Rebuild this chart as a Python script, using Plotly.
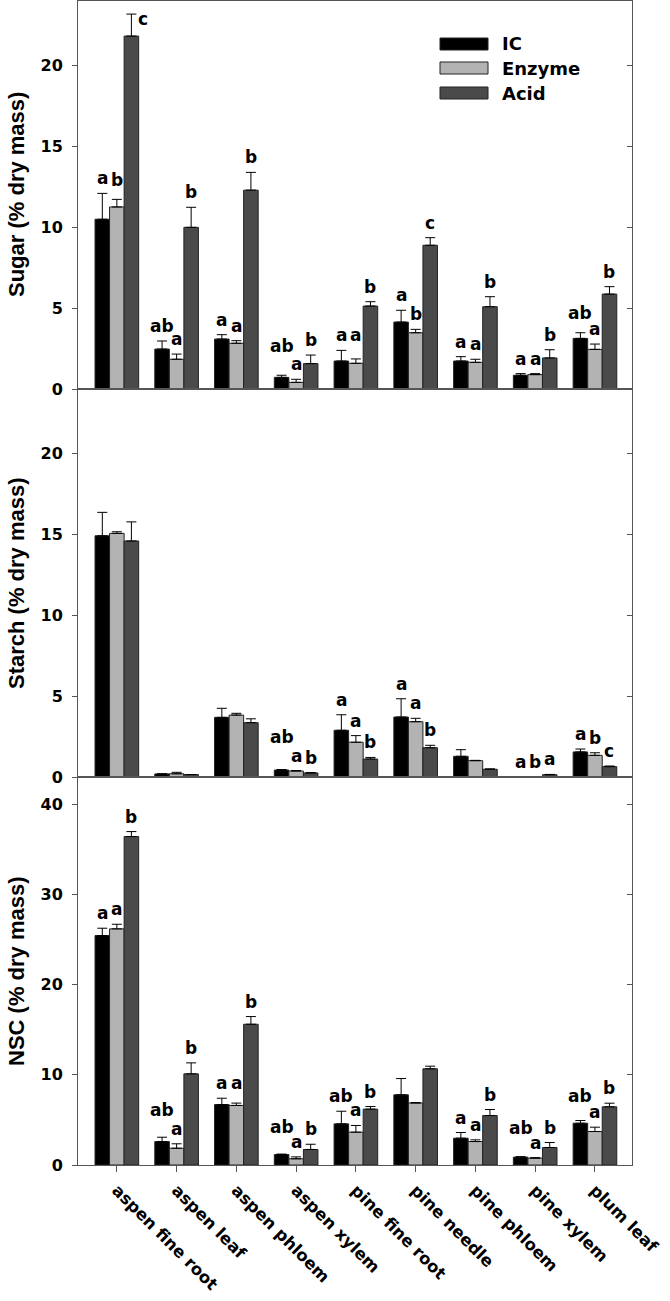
import plotly.graph_objects as go

categories = ["aspen fine root", "aspen leaf", "aspen phloem", "aspen xylem",
              "pine fine root", "pine needle", "pine phloem", "pine xylem", "plum leaf"]
series_names = ["IC", "Enzyme", "Acid"]

sugar_ic = [10.5, 2.47, 3.09, 0.72, 1.73, 4.14, 1.73, 0.85, 3.13]
sugar_ic_err = [1.6, 0.5, 0.27, 0.13, 0.66, 0.73, 0.27, 0.1, 0.35]
sugar_enz = [11.26, 1.84, 2.83, 0.41, 1.59, 3.48, 1.65, 0.89, 2.45]
sugar_enz_err = [0.47, 0.32, 0.16, 0.19, 0.27, 0.21, 0.19, 0.06, 0.33]
sugar_acid = [21.83, 10.0, 12.3, 1.57, 5.13, 8.89, 5.09, 1.92, 5.87]
sugar_acid_err = [1.36, 1.24, 1.1, 0.53, 0.27, 0.47, 0.62, 0.51, 0.46]

starch_ic = [14.92, 0.19, 3.69, 0.43, 2.89, 3.71, 1.28, 0.0, 1.55]
starch_ic_err = [1.45, 0.0, 0.56, 0.03, 0.96, 1.13, 0.41, 0.0, 0.18]
starch_enz = [15.07, 0.2, 3.83, 0.37, 2.15, 3.42, 1.01, 0.0, 1.34]
starch_enz_err = [0.1, 0.09, 0.11, 0.03, 0.41, 0.21, 0.02, 0.0, 0.16]
starch_acid = [14.6, 0.15, 3.36, 0.25, 1.11, 1.81, 0.48, 0.14, 0.64]
starch_acid_err = [1.18, 0.0, 0.24, 0.02, 0.1, 0.15, 0.02, 0.02, 0.04]

nsc_ic = [25.43, 2.6, 6.7, 1.16, 4.56, 7.78, 2.97, 0.87, 4.63]
nsc_ic_err = [0.81, 0.48, 0.7, 0.05, 1.4, 1.8, 0.63, 0.05, 0.3]
nsc_enz = [26.17, 1.86, 6.6, 0.69, 3.64, 6.87, 2.6, 0.76, 3.71]
nsc_enz_err = [0.51, 0.49, 0.26, 0.21, 0.74, 0.05, 0.19, 0.05, 0.48]
nsc_acid = [36.4, 10.1, 15.6, 1.72, 6.19, 10.66, 5.48, 1.94, 6.45]
nsc_acid_err = [0.55, 1.22, 0.85, 0.58, 0.29, 0.29, 0.67, 0.55, 0.4]

sugar_letters = [["a", "b", "c"], ["ab", "a", "b"], ["a", "a", "b"], ["ab", "a", "b"], ["a", "a", "b"],
                 ["a", "b", "c"], ["a", "a", "b"], ["a", "a", "b"], ["ab", "a", "b"]]
starch_letters = [["", "", ""], ["", "", ""], ["", "", ""], ["ab", "a", "b"], ["a", "a", "b"],
                  ["a", "a", "b"], ["", "", ""], ["a", "b", "a"], ["a", "b", "c"]]
nsc_letters = [["a", "a", "b"], ["ab", "a", "b"], ["a", "a", "b"], ["ab", "a", "b"], ["ab", "a", "b"],
               ["", "", ""], ["a", "a", "b"], ["ab", "a", "b"], ["ab", "a", "b"]]

panel_titles = ["Sugar (% dry mass)", "Starch (% dry mass)", "NSC (% dry mass)"]
y_ranges = [[0, 24], [0, 24], [0, 43]]
y_ticks = [[0, 5, 10, 15, 20], [0, 5, 10, 15, 20], [0, 10, 20, 30, 40]]

# ---- styling ----
colors = ["#000000", "#b3b3b3", "#4a4a4a"]
frame_color = "#555555"
bargap = 0.27
W, H = 670, 1301
ML, MR, MT, MB = 78, 38, 1, 136
x_range = [-0.65, 8.62]
tick_font = dict(family="DejaVu Sans", size=16, color="black", weight="bold")
xtick_font = dict(family="DejaVu Sans", size=16.5, color="black", weight="bold")
letter_font = dict(family="DejaVu Sans", size=17, color="black", weight="bold")
# pixel adjustments for individual significance letters (panel, group, series) -> (dx, dy)
letter_adjust = {
    (0, 0, 2): (12, -20), (0, 0, 1): (0, 4), (0, 3, 0): (0, 14), (0, 4, 1): (0, 9), (0, 8, 0): (0, 5),
    (1, 3, 0): (0, 18),
    (2, 1, 0): (0, 12), (2, 3, 0): (0, 12), (2, 7, 0): (0, 14), (2, 8, 0): (0, 10), (2, 2, 1): (0, 5),
}

panels = [
    ([sugar_ic, sugar_enz, sugar_acid], [sugar_ic_err, sugar_enz_err, sugar_acid_err], sugar_letters),
    ([starch_ic, starch_enz, starch_acid], [starch_ic_err, starch_enz_err, starch_acid_err], starch_letters),
    ([nsc_ic, nsc_enz, nsc_acid], [nsc_ic_err, nsc_enz_err, nsc_acid_err], nsc_letters),
]

idx = list(range(len(categories)))
fig = go.Figure()
annotations = []
bw = (1 - bargap) / 3

for p, (vals, errs, letters) in enumerate(panels):
    xa = "x" if p == 0 else f"x{p + 1}"
    ya = "y" if p == 0 else f"y{p + 1}"
    for k in range(3):
        fig.add_trace(go.Bar(
            x=idx, y=vals[k], name=series_names[k], offsetgroup=str(k),
            marker=dict(color=colors[k], line=dict(color="#222222", width=1)),
            error_y=dict(type="data", symmetric=False, array=errs[k],
                         arrayminus=[0] * len(idx), color="black", thickness=1, width=5),
            xaxis=xa, yaxis=ya, showlegend=False, hoverinfo="skip"))
        for i in idx:
            txt = letters[i][k]
            if not txt:
                continue
            dx, dy = letter_adjust.get((p, i, k), (0, 0))
            annotations.append(dict(
                x=i + (k - 1) * bw, y=vals[k][i] + errs[k][i], xref=xa, yref=ya,
                text=txt, showarrow=False, xanchor="center", yanchor="bottom",
                xshift=dx, yshift=3 + dy, font=letter_font))
    # dummy trace for right-side inward ticks axis
    fig.add_trace(go.Scatter(x=[None], y=[None], xaxis=xa, yaxis=f"y{p + 4}",
                             showlegend=False, hoverinfo="skip"))

domains = [[2 / 3, 1], [1 / 3, 2 / 3], [0, 1 / 3]]
layout = dict(
    width=W, height=H, margin=dict(l=ML, r=MR, t=MT, b=MB, autoexpand=False),
    paper_bgcolor="white", plot_bgcolor="white",
    barmode="group", bargap=bargap, bargroupgap=0,
    showlegend=False,
)
for p in range(3):
    xkey = "xaxis" if p == 0 else f"xaxis{p + 1}"
    ykey = "yaxis" if p == 0 else f"yaxis{p + 1}"
    yname = "y" if p == 0 else f"y{p + 1}"
    xname = "x" if p == 0 else f"x{p + 1}"
    xa = dict(domain=[0, 1], anchor=yname, range=x_range, showgrid=False, zeroline=False,
              showline=True, mirror=True, linecolor=frame_color, linewidth=1,
              tickvals=idx, ticktext=categories, automargin=False)
    if p < 2:
        xa.update(ticks="", showticklabels=False)
    else:
        xa.update(ticks="outside", ticklen=6, tickcolor=frame_color, tickangle=45,
                  tickfont=xtick_font, ticklabelstandoff=2)
    layout[xkey] = xa
    layout[ykey] = dict(domain=domains[p], anchor=xname, range=y_ranges[p], tickvals=y_ticks[p],
                        showgrid=False, zeroline=False, showline=True, mirror=True,
                        linecolor=frame_color, linewidth=1, ticks="outside", ticklen=5,
                        tickcolor=frame_color, tickfont=tick_font, ticklabelstandoff=6,
                        automargin=False)
    layout[f"yaxis{p + 4}"] = dict(overlaying=yname, side="right", anchor=xname, range=y_ranges[p],
                                   tickvals=y_ticks[p], ticks="inside", ticklen=5, tickcolor=frame_color,
                                   showticklabels=False, showgrid=False, zeroline=False, showline=False,
                                   automargin=False)
    annotations.append(dict(
        x=(16 - ML) / (W - ML - MR), y=(domains[p][0] + domains[p][1]) / 2, xref="paper", yref="paper",
        text=f"<b>{panel_titles[p]}</b>", textangle=-90, showarrow=False,
        xanchor="center", yanchor="middle",
        font=dict(family="Liberation Sans, Arial", size=22, color="black")))

# legend (drawn manually to mimic long swatches)
pw = W - ML - MR
ph = H - MT - MB
def px_x(v):
    return (v - ML) / pw
def px_y(v):
    return (H - MB - v) / ph
shapes = []
legend_rows = [(38, 50, 44), (62, 74, 68), (87, 99, 93)]
for k, (t0, t1, tc) in enumerate(legend_rows):
    shapes.append(dict(type="rect", xref="paper", yref="paper",
                       x0=px_x(440), x1=px_x(488), y0=px_y(t1), y1=px_y(t0),
                       fillcolor=colors[k], line=dict(color="#222222", width=1)))
    annotations.append(dict(x=px_x(500), y=px_y(tc), xref="paper", yref="paper",
                            text=series_names[k], showarrow=False, xanchor="left", yanchor="middle",
                            font=dict(family="DejaVu Sans", size=18, color="black", weight="bold")))

layout["annotations"] = annotations
layout["shapes"] = shapes
fig.update_layout(**layout)

fig.write_html("out.html", config={"displayModeBar": False},
               post_script="document.body.style.margin='0';")
